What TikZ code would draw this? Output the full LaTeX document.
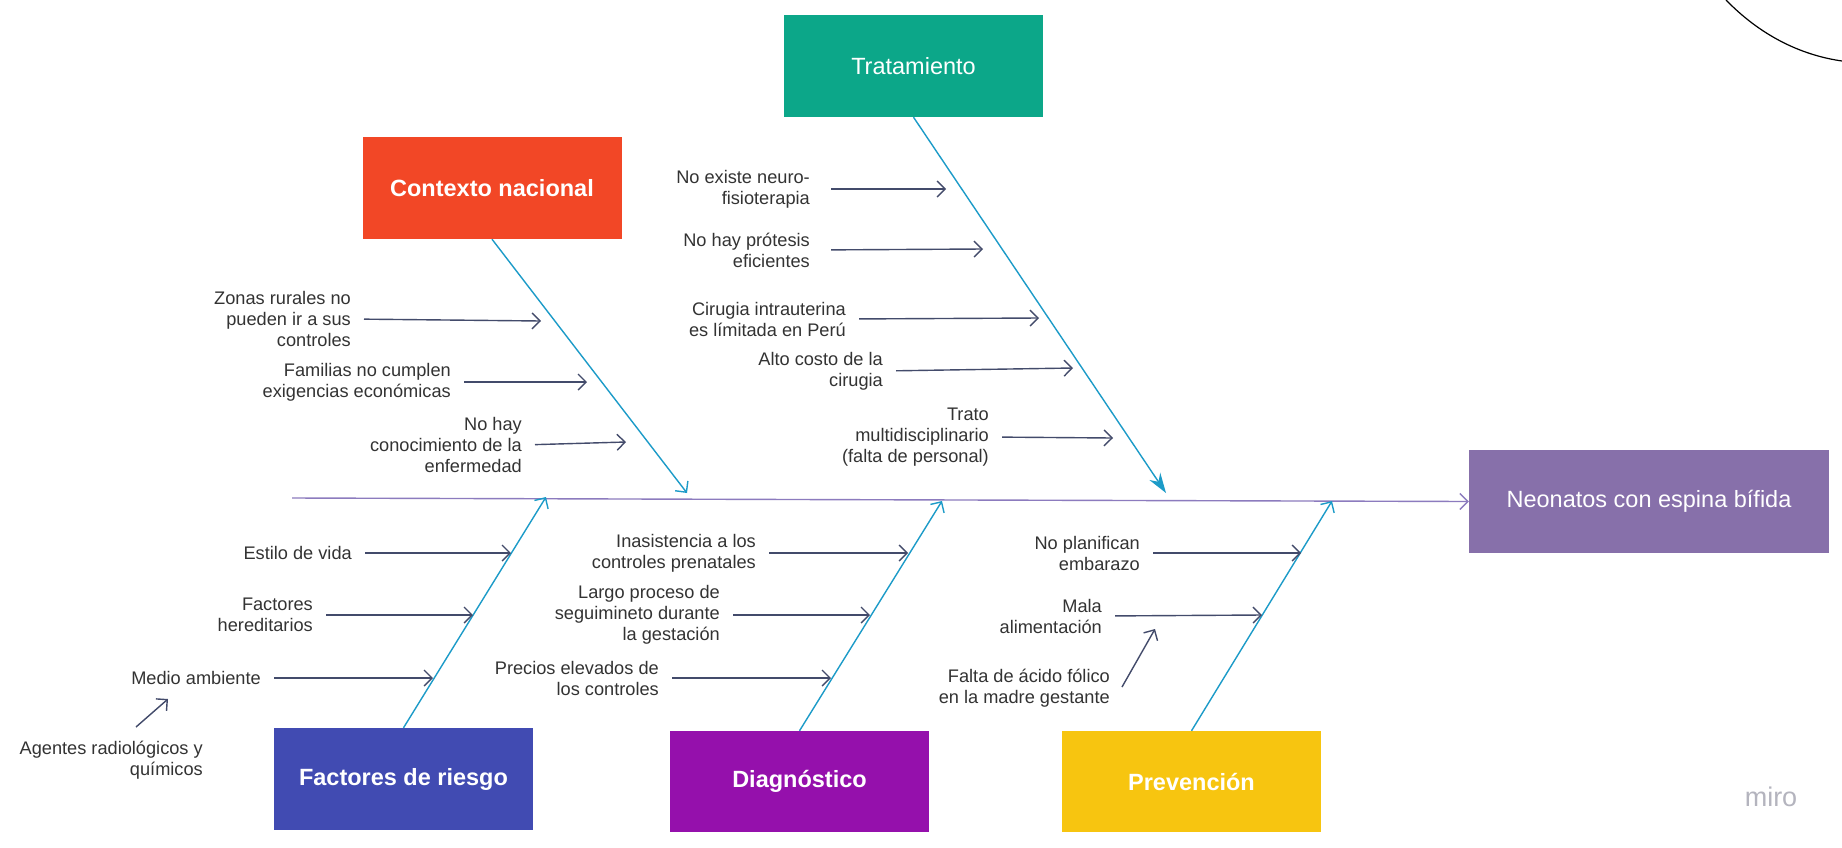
\documentclass[tikz,border=0pt]{standalone}
\usepackage{fontspec}
\setmainfont{Liberation Sans}
\usetikzlibrary{arrows.meta}
\definecolor{ctxred}{HTML}{F24726}
\definecolor{trtgreen}{HTML}{0CA789}
\definecolor{riskblue}{HTML}{414BB2}
\definecolor{diapurple}{HTML}{9510AC}
\definecolor{preyellow}{HTML}{F7C510}
\definecolor{neolilac}{HTML}{8770AA}
\definecolor{bonecyan}{HTML}{1C9BC8}
\definecolor{spinelilac}{HTML}{8C7BBE}
\definecolor{causeslate}{HTML}{434B6B}
\definecolor{labelgray}{HTML}{333333}
\definecolor{mirogray}{HTML}{B4B4BE}
\begin{document}
\begin{tikzpicture}[x=1pt,y=-1pt,
    box/.style={minimum width=259pt,minimum height=102pt,inner sep=0pt,text=white,
      font=\fontsize{23.5}{28}\selectfont\bfseries},
    head/.style={box,font=\fontsize{23.5}{28}\selectfont},
    cause/.style={anchor=east,inner sep=0pt,align=right,text=labelgray,
      font=\fontsize{18.2}{21}\selectfont},
    causearrow/.style={draw=causeslate,line width=1.4pt,shorten <=13pt,
      -{Straight Barb[length=8pt,width=16pt]}},
    bone/.style={draw=bonecyan,line width=1.4pt,-{Straight Barb[length=8pt,width=16pt]}},
    spine/.style={draw=spinelilac,line width=1.4pt,-{Straight Barb[length=8pt,width=16pt]}}]
  \fill[white] (0,0) rectangle (1842,847);
  \useasboundingbox (0,0) rectangle (1842,847);

  % Marking head and spine
  \node[head,fill=neolilac,minimum width=360pt,minimum height=103pt] (neo) at (1649,501.5) {Neonatos con espina bífida};%
  \coordinate (tail) at (292,498);
  \draw[spine] (tail) -- (neo.west);%

  % Marking category boxes
  \node[box,fill=ctxred] (ctx) at (492,188) {Contexto nacional};%
  \node[head,fill=trtgreen] (trt) at (913.5,66) {Tratamiento};%
  \node[box,fill=riskblue] (rsk) at (403.5,779) {Factores de riesgo};%
  \node[box,fill=diapurple,minimum height=101pt] (dia) at (799.5,781.5) {Diagnóstico};%
  \node[box,fill=preyellow,minimum height=101pt] (pre) at (1191.5,781.5) {Prevención};%

  % Drawing bones
  \coordinate (ctxtip) at (687,493);
  \coordinate (trttip) at (1166,493);
  \coordinate (rsktip) at (546,497);
  \coordinate (diatip) at (942,501);
  \coordinate (pretip) at (1332,501);
  \draw[bone] (ctx.south) -- (ctxtip);%
  \draw[bone,-{Stealth[length=20pt,width=13pt]}] (trt.south) -- (trttip);%
  \draw[bone] (rsk.north) -- (rsktip);%
  \draw[bone] (dia.north) -- (diatip);%
  \draw[bone] (pre.north) -- (pretip);%

  % Causes of Contexto nacional
  \node[cause] (c1) at (351,319) {Zonas rurales no\\pueden ir a sus\\controles};%
  \node[cause] (c2) at (451,382) {Familias no cumplen\\exigencias económicas};%
  \node[cause] (c3) at (522,445) {No hay\\conocimiento de la\\enfermedad};%
  \coordinate (c1tip) at (541,321);
  \coordinate (c2tip) at (587,382);
  \coordinate (c3tip) at (626,442);
  \draw[causearrow] (c1.east) -- (c1tip);%
  \draw[causearrow] (c2.east) -- (c2tip);%
  \draw[causearrow] (c3.east) -- (c3tip);%

  % Causes of Tratamiento
  \node[cause] (t1) at (810,189) {No existe neuro-\\fisioterapia};%
  \node[cause] (t2) at (810,250) {No hay prótesis\\eficientes};%
  \node[cause] (t3) at (846,319) {Cirugia intrauterina\\es límitada en Perú};%
  \node[cause] (t4) at (883,371) {Alto costo de la\\cirugia};%
  \node[cause] (t5) at (989,437) {Trato\\multidisciplinario\\(falta de personal)};%
  \coordinate (t1tip) at (946,189);
  \coordinate (t2tip) at (983,249);
  \coordinate (t3tip) at (1039,318);
  \coordinate (t4tip) at (1073,368);
  \coordinate (t5tip) at (1113,438);
  \draw[causearrow,shorten <=21pt] (t1.east) -- (t1tip);%
  \draw[causearrow,shorten <=21pt] (t2.east) -- (t2tip);%
  \draw[causearrow] (t3.east) -- (t3tip);%
  \draw[causearrow] (t4.east) -- (t4tip);%
  \draw[causearrow] (t5.east) -- (t5tip);%

  % Causes of Factores de riesgo
  \node[cause] (r1) at (352,553) {Estilo de vida};%
  \node[cause] (r2) at (313,615) {Factores\\hereditarios};%
  \node[cause] (r3) at (261,678) {Medio ambiente};%
  \node[cause] (r4) at (203,760) {Agentes radiológicos y\\químicos};%
  \coordinate (r1tip) at (511,553);
  \coordinate (r2tip) at (473,615);
  \coordinate (r3tip) at (433,678);
  \coordinate (r4foot) at (136,727);
  \coordinate (r4tip) at (168,699);
  \draw[causearrow] (r1.east) -- (r1tip);%
  \draw[causearrow] (r2.east) -- (r2tip);%
  \draw[causearrow] (r3.east) -- (r3tip);%
  \draw[causearrow,shorten <=0pt] (r4foot) -- (r4tip);%

  % Causes of Diagnostico
  \node[cause] (d1) at (756,553) {Inasistencia a los\\controles prenatales};%
  \node[cause] (d2) at (720,615) {Largo proceso de\\seguimineto durante\\la gestación};%
  \node[cause] (d3) at (659,678) {Precios elevados de\\los controles};%
  \coordinate (d1tip) at (908,553);
  \coordinate (d2tip) at (870,615);
  \coordinate (d3tip) at (831,678);
  \draw[causearrow] (d1.east) -- (d1tip);%
  \draw[causearrow] (d2.east) -- (d2tip);%
  \draw[causearrow] (d3.east) -- (d3tip);%

  % Causes of Prevencion
  \node[cause] (p1) at (1140,553) {No planifican\\embarazo};%
  \node[cause] (p2) at (1102,616) {Mala\\alimentación};%
  \node[cause] (p3) at (1110,688) {Falta de ácido fólico\\en la madre gestante};%
  \coordinate (p1tip) at (1301,553);
  \coordinate (p2tip) at (1262,615);
  \coordinate (p3foot) at (1122,687);
  \coordinate (p3tip) at (1155,629);
  \draw[causearrow] (p1.east) -- (p1tip);%
  \draw[causearrow] (p2.east) -- (p2tip);%
  \draw[causearrow,shorten <=0pt] (p3foot) -- (p3tip);%

  % Stray curve at the top right corner and watermark
  \draw[line width=1.2pt] (1726,0) .. controls (1760,35) and (1800,55) .. (1842,61);%
  \node[text=mirogray,font=\fontsize{27}{30}\selectfont] (miro) at (1771,797) {miro};%
\end{tikzpicture}
\end{document}
